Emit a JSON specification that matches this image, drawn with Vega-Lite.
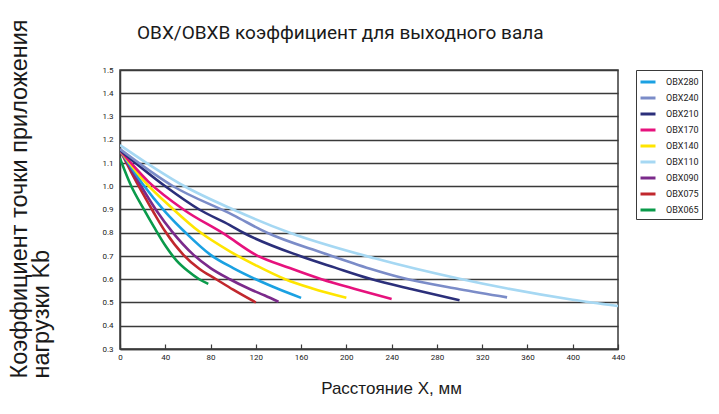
{
  "$schema": "https://vega.github.io/schema/vega-lite/v6.json",
  "autosize": {"type": "none"},
  "padding": {"left": 120, "top": 70, "right": 101, "bottom": 65},
  "width": 498,
  "height": 279,
  "background": "white",
  "title": {
    "text": "OBX/OBXB коэффициент для выходного вала",
    "anchor": "start",
    "frame": "group",
    "dx": 17,
    "offset": -24,
    "font": "Roboto",
    "fontSize": 19,
    "fontWeight": "normal",
    "color": "#1a1a1a"
  },
  "config": {
    "view": {"stroke": "#3a3a3a", "strokeWidth": 1.5},
    "font": "Roboto"
  },
  "data": {
    "values": [
      {"model": "OBX065", "x": 0, "k": 1.12},
      {"model": "OBX065", "x": 10, "k": 1.0},
      {"model": "OBX065", "x": 20, "k": 0.91},
      {"model": "OBX065", "x": 30, "k": 0.825},
      {"model": "OBX065", "x": 40, "k": 0.745},
      {"model": "OBX065", "x": 50, "k": 0.68},
      {"model": "OBX065", "x": 60, "k": 0.635},
      {"model": "OBX065", "x": 70, "k": 0.6},
      {"model": "OBX065", "x": 78, "k": 0.58},

      {"model": "OBX075", "x": 0, "k": 1.155},
      {"model": "OBX075", "x": 10, "k": 1.06},
      {"model": "OBX075", "x": 20, "k": 0.97},
      {"model": "OBX075", "x": 30, "k": 0.885},
      {"model": "OBX075", "x": 40, "k": 0.805},
      {"model": "OBX075", "x": 56, "k": 0.705},
      {"model": "OBX075", "x": 70, "k": 0.645},
      {"model": "OBX075", "x": 85, "k": 0.6},
      {"model": "OBX075", "x": 100, "k": 0.555},
      {"model": "OBX075", "x": 120, "k": 0.5},

      {"model": "OBX090", "x": 0, "k": 1.155},
      {"model": "OBX090", "x": 15, "k": 1.03},
      {"model": "OBX090", "x": 32, "k": 0.897},
      {"model": "OBX090", "x": 46, "k": 0.805},
      {"model": "OBX090", "x": 65, "k": 0.705},
      {"model": "OBX090", "x": 80, "k": 0.648},
      {"model": "OBX090", "x": 97, "k": 0.6},
      {"model": "OBX090", "x": 115, "k": 0.557},
      {"model": "OBX090", "x": 128, "k": 0.53},
      {"model": "OBX090", "x": 140, "k": 0.503},

      {"model": "OBX280", "x": 0, "k": 1.155},
      {"model": "OBX280", "x": 20, "k": 1.01},
      {"model": "OBX280", "x": 40, "k": 0.89},
      {"model": "OBX280", "x": 58, "k": 0.8},
      {"model": "OBX280", "x": 80, "k": 0.705},
      {"model": "OBX280", "x": 100, "k": 0.648},
      {"model": "OBX280", "x": 120, "k": 0.6},
      {"model": "OBX280", "x": 140, "k": 0.558},
      {"model": "OBX280", "x": 160, "k": 0.52},

      {"model": "OBX140", "x": 0, "k": 1.155},
      {"model": "OBX140", "x": 20, "k": 1.03},
      {"model": "OBX140", "x": 48, "k": 0.897},
      {"model": "OBX140", "x": 70, "k": 0.805},
      {"model": "OBX140", "x": 97, "k": 0.72},
      {"model": "OBX140", "x": 120, "k": 0.66},
      {"model": "OBX140", "x": 146, "k": 0.6},
      {"model": "OBX140", "x": 170, "k": 0.56},
      {"model": "OBX140", "x": 200, "k": 0.52},

      {"model": "OBX170", "x": 0, "k": 1.155},
      {"model": "OBX170", "x": 25, "k": 1.02},
      {"model": "OBX170", "x": 57, "k": 0.897},
      {"model": "OBX170", "x": 92, "k": 0.795},
      {"model": "OBX170", "x": 120, "k": 0.705},
      {"model": "OBX170", "x": 150, "k": 0.648},
      {"model": "OBX170", "x": 178, "k": 0.6},
      {"model": "OBX170", "x": 210, "k": 0.555},
      {"model": "OBX170", "x": 240, "k": 0.515},

      {"model": "OBX210", "x": 0, "k": 1.155},
      {"model": "OBX210", "x": 40, "k": 1.0},
      {"model": "OBX210", "x": 70, "k": 0.9},
      {"model": "OBX210", "x": 97, "k": 0.833},
      {"model": "OBX210", "x": 109, "k": 0.8},
      {"model": "OBX210", "x": 159, "k": 0.7},
      {"model": "OBX210", "x": 190, "k": 0.65},
      {"model": "OBX210", "x": 221, "k": 0.602},
      {"model": "OBX210", "x": 260, "k": 0.555},
      {"model": "OBX210", "x": 300, "k": 0.51},

      {"model": "OBX240", "x": 0, "k": 1.16},
      {"model": "OBX240", "x": 47, "k": 1.0},
      {"model": "OBX240", "x": 100, "k": 0.876},
      {"model": "OBX240", "x": 130, "k": 0.8},
      {"model": "OBX240", "x": 180, "k": 0.712},
      {"model": "OBX240", "x": 221, "k": 0.645},
      {"model": "OBX240", "x": 250, "k": 0.605},
      {"model": "OBX240", "x": 300, "k": 0.557},
      {"model": "OBX240", "x": 342, "k": 0.522},

      {"model": "OBX110", "x": 0, "k": 1.177},
      {"model": "OBX110", "x": 22, "k": 1.105},
      {"model": "OBX110", "x": 57, "k": 1.0},
      {"model": "OBX110", "x": 100, "k": 0.9},
      {"model": "OBX110", "x": 150, "k": 0.8},
      {"model": "OBX110", "x": 225, "k": 0.69},
      {"model": "OBX110", "x": 299, "k": 0.603},
      {"model": "OBX110", "x": 340, "k": 0.562},
      {"model": "OBX110", "x": 400, "k": 0.512},
      {"model": "OBX110", "x": 440, "k": 0.485}
    ]
  },
  "mark": {"type": "line", "interpolate": "monotone", "strokeWidth": 2.6, "clip": true},
  "encoding": {
    "x": {
      "field": "x",
      "type": "quantitative",
      "scale": {"domain": [0, 440], "nice": false},
      "axis": {
        "title": "Расстояние X, мм",
        "titleFont": "Liberation Sans",
        "titleFontSize": 17,
        "titleFontWeight": "normal",
        "titleColor": "#1a1a1a",
        "titleX": 271,
        "titleY": 44,
        "titleBaseline": "alphabetic",
        "values": [0, 40, 80, 120, 160, 200, 240, 280, 320, 360, 400, 440],
        "grid": false,
        "domainColor": "#3a3a3a",
        "domainWidth": 1.5,
        "tickColor": "#3a3a3a",
        "tickWidth": 1.2,
        "tickSize": -5,
        "labelFontSize": 8,
        "labelColor": "#222",
        "labelPadding": 9,
        "labelFlush": false
      }
    },
    "y": {
      "field": "k",
      "type": "quantitative",
      "scale": {"domain": [0.3, 1.5], "nice": false, "zero": false},
      "axis": {
        "title": ["Коэффициент точки приложения", "нагрузки Kb"],
        "titleFont": "Liberation Sans",
        "titleFontSize": 23.5,
        "titleFontWeight": "normal",
        "titleColor": "#1a1a1a",
        "titleLineHeight": 22,
        "titleAlign": "left",
        "titleAngle": -90,
        "titleBaseline": "alphabetic",
        "titleX": -94,
        "titleY": 308,
        "values": [0.3, 0.4, 0.5, 0.6, 0.7, 0.8, 0.9, 1.0, 1.1, 1.2, 1.3, 1.4, 1.5],
        "format": ".1f",
        "grid": true,
        "gridColor": "#3a3a3a",
        "gridWidth": 1.3,
        "gridOpacity": 1,
        "domainColor": "#3a3a3a",
        "domainWidth": 1.5,
        "ticks": false,
        "labelFontSize": 8,
        "labelColor": "#222",
        "labelPadding": 7
      }
    },
    "color": {
      "field": "model",
      "type": "nominal",
      "sort": ["OBX280", "OBX240", "OBX210", "OBX170", "OBX140", "OBX110", "OBX090", "OBX075", "OBX065"],
      "scale": {
        "domain": ["OBX280", "OBX240", "OBX210", "OBX170", "OBX140", "OBX110", "OBX090", "OBX075", "OBX065"],
        "range": ["#1ba1e2", "#7b8cc8", "#2b2f7a", "#e6127d", "#ffe500", "#a6d8f3", "#7b2a8b", "#c1272d", "#0a9a4a"]
      },
      "legend": {
        "title": null,
        "orient": "none",
        "legendX": 516,
        "legendY": 0,
        "symbolType": "stroke",
        "symbolStrokeWidth": 3,
        "symbolSize": 225,
        "rowPadding": 1,
        "padding": 3,
        "labelOffset": 9,
        "labelFontSize": 9,
        "labelColor": "#222",
        "strokeColor": "#3a3a3a",
        "fillColor": "white"
      }
    }
  }
}
